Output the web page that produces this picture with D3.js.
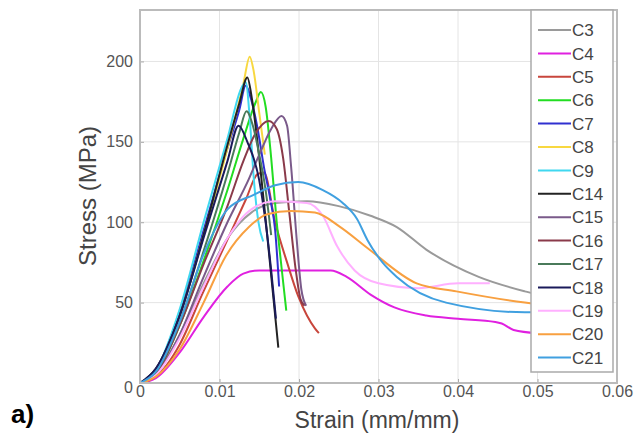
<!DOCTYPE html>
<html>
<head>
<meta charset="utf-8">
<script src="https://cdn.jsdelivr.net/npm/d3@7"></script>
<style>
  body { margin: 0; background: #fff; }
  text { font-family: "Liberation Sans", Arial, sans-serif; }
</style>
</head>
<body>
<svg id="chart" width="637" height="438"></svg>
<script>
// strain (mm/mm), stress (MPa)
const c3  = [[0,0],[0.002,6],[0.005,30],[0.008,62],[0.011,90],[0.014,106],[0.017,112],[0.021,113],[0.025,110],[0.029,104],[0.0323,97],[0.036,83],[0.0426,66],[0.0484,57],[0.05,55]]
const c4  = [[0,0],[0.002,3],[0.005,19],[0.008,41],[0.011,60],[0.013,68],[0.015,70],[0.020,70],[0.024,70],[0.026,66],[0.029,55],[0.032,47],[0.036,42],[0.040,40],[0.0447,38],[0.0455,37],[0.047,33],[0.05,31]]
const c5  = [[0,0],[0.002,4],[0.005,24],[0.0078,55],[0.0108,87],[0.0133,114],[0.0148,130],[0.0156,131],[0.017,100],[0.0185,75],[0.0199,54],[0.021,42],[0.022,34],[0.0225,31]]
const c6  = [[0,0],[0.002,6],[0.005,36],[0.008,76],[0.011,120],[0.013,152],[0.0145,174],[0.0152,181],[0.0158,172],[0.0165,140],[0.0172,100],[0.0178,72],[0.0184,45]]
const c7  = [[0,0],[0.002,8],[0.005,44],[0.008,95],[0.011,146],[0.0125,170],[0.0133,185],[0.014,176],[0.0148,158],[0.0156,134],[0.0164,114],[0.017,95],[0.0175,60]]
const c8  = [[0,0],[0.002,7],[0.005,42],[0.008,92],[0.011,146],[0.013,186],[0.0138,203],[0.0143,194],[0.015,168],[0.0157,142]]
const c9  = [[0,0],[0.002,8],[0.005,46],[0.008,100],[0.011,152],[0.0128,184],[0.0133,187],[0.0138,165],[0.0143,128],[0.0149,100],[0.0155,88]]
const c14 = [[0,0],[0.002,9],[0.005,42],[0.0081,94],[0.011,148],[0.0125,174],[0.0135,190],[0.0141,176],[0.015,140],[0.016,92],[0.0168,52],[0.0174,22]]
const c15 = [[0,0],[0.002,5],[0.005,30],[0.008,66],[0.011,100],[0.0137,127],[0.015,142],[0.0165,158],[0.0178,166],[0.0185,160],[0.019,135],[0.0197,90],[0.0203,58],[0.0209,48]]
const c16 = [[0,0],[0.002,6],[0.005,36],[0.008,74],[0.011,110],[0.013,138],[0.0145,155],[0.0162,163],[0.0172,158],[0.018,140],[0.0188,105],[0.0196,70],[0.0202,52],[0.0207,48]]
const c17 = [[0,0],[0.002,7],[0.005,38],[0.008,82],[0.011,130],[0.0125,156],[0.0134,169],[0.0142,160],[0.015,142],[0.0158,120],[0.0165,92]]
const c18 = [[0,0],[0.002,9],[0.005,42],[0.0081,92],[0.011,138],[0.0124,160],[0.0135,150],[0.015,126],[0.0158,100],[0.0165,70],[0.0171,40]]
const c19 = [[0,0],[0.002,5],[0.005,28],[0.008,60],[0.011,90],[0.014,108],[0.017,113],[0.021,112],[0.023,104],[0.0248,85],[0.027,70],[0.030,62],[0.035,59],[0.040,62],[0.044,62]]
const c20 = [[0,0],[0.002,4],[0.005,21],[0.008,50],[0.0108,79],[0.0137,97],[0.016,105],[0.019,107],[0.022,106],[0.0252,97],[0.0286,84],[0.0348,62],[0.0398,57],[0.0484,50],[0.05,49]]
const c21 = [[0,0],[0.002,7],[0.005,38],[0.008,80],[0.011,108],[0.0143,117],[0.017,123],[0.0199,125],[0.023,120],[0.0255,112],[0.0273,102],[0.0286,89],[0.0305,75],[0.0323,66],[0.0385,50],[0.0484,44],[0.05,44]]

const names  = ["C3","C4","C5","C6","C7","C8","C9","C14","C15","C16","C17","C18","C19","C20","C21"]
const series = [c3,c4,c5,c6,c7,c8,c9,c14,c15,c16,c17,c18,c19,c20,c21]
const colors = ["#9a9a9a","#e020e0","#c8463c","#22dd22","#3030d0","#f8d840","#40d8f0","#222222","#7a5a8a","#8a3a4a","#4a7a5a","#1a1a5a","#ffb0ff","#f8a040","#40a0e0"]
const xTicks = [0,0.01,0.02,0.03,0.04,0.05,0.06]
const yTicks = [0,50,100,150,200]

const svg = d3.select('#chart')
const mLeft = 140, mRight = 617, mTop = 10, mBottom = 383

const x = d3.scaleLinear().domain([0,0.06]).range([mLeft,mRight])
const y = d3.scaleLinear().domain([0,232]).range([mBottom,mTop])

// grid
svg.append('g').selectAll('line').data(xTicks.slice(1,-1)).enter().append('line')
  .attr('x1',d=>x(d)).attr('x2',d=>x(d)).attr('y1',mTop).attr('y2',mBottom)
  .attr('stroke','#e4e4e4').attr('stroke-width',1)
svg.append('g').selectAll('line').data(yTicks.slice(1)).enter().append('line')
  .attr('x1',mLeft).attr('x2',mRight).attr('y1',d=>y(d)).attr('y2',d=>y(d))
  .attr('stroke','#e4e4e4').attr('stroke-width',1)

// curves
const line = d3.line().x(d=>x(d[0])).y(d=>y(d[1])).curve(d3.curveMonotoneX)
svg.append('g').selectAll('path').data(series).enter().append('path')
  .attr('d',line).attr('fill','none')
  .attr('stroke',(d,i)=>colors[i]).attr('stroke-width',2)

// axes
const xAxis = svg.append('g').attr('transform',`translate(0,${mBottom})`)
  .call(d3.axisBottom(x).tickValues(xTicks).tickFormat(d=>d===0?'0':d3.format('.2f')(d)).tickSize(-4).tickPadding(3))
const yAxis = svg.append('g').attr('transform',`translate(${mLeft},0)`)
  .call(d3.axisLeft(y).tickValues(yTicks).tickSize(-4).tickPadding(7))
;[xAxis,yAxis].forEach(a=>{
  a.select('.domain').remove()
  a.selectAll('line').attr('stroke','#aaa')
  a.selectAll('text').attr('fill','#555').style('font-size','16px')
})
yAxis.selectAll('text').filter(d=>d===0).attr('dy','0.6em')
// box
svg.append('rect').attr('x',mLeft).attr('y',mTop).attr('width',mRight-mLeft).attr('height',mBottom-mTop)
  .attr('fill','none').attr('stroke','#bbb').attr('stroke-width',2)

// labels
svg.append('text').attr('x',377).attr('y',428).attr('text-anchor','middle')
  .attr('fill','#444').style('font-size','23px').text('Strain (mm/mm)')
svg.append('text').attr('transform','translate(96,196) rotate(-90)').attr('text-anchor','middle')
  .attr('fill','#444').style('font-size','24px').text('Stress (MPa)')
svg.append('text').attr('x',11).attr('y',423).attr('fill','#000')
  .style('font-size','26px').style('font-weight','bold').text('a)')

// legend
const lg = svg.append('g')
lg.append('rect').attr('x',531).attr('y',mTop).attr('width',82).attr('height',362)
  .attr('fill','#fff').attr('stroke','#aaa').attr('stroke-width',1.5)
const items = lg.selectAll('g.item').data(names).enter().append('g').attr('class','item')
  .attr('transform',(d,i)=>`translate(0,${30+i*23.4})`)
items.append('line').attr('x1',538).attr('x2',571).attr('y1',0).attr('y2',0)
  .attr('stroke',(d,i)=>colors[i]).attr('stroke-width',2)
items.append('text').attr('x',572).attr('y',0).attr('dy','0.36em')
  .attr('fill','#444').style('font-size','17px').text(d=>d)
</script>
</body>
</html>
